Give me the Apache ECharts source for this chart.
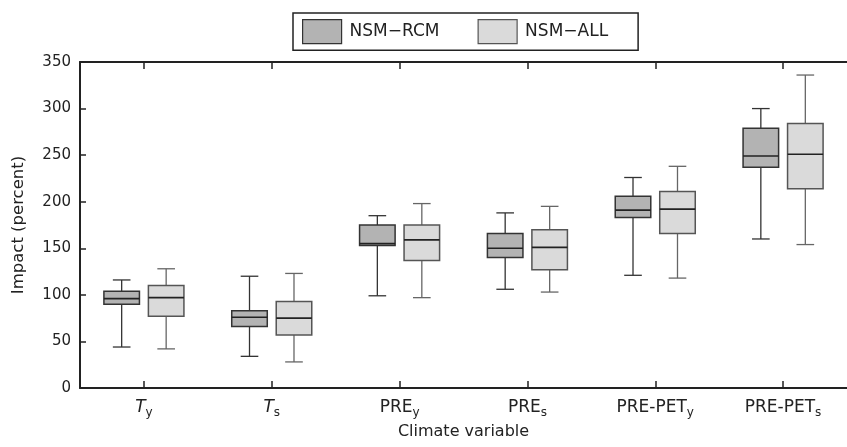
<!DOCTYPE html>
<html>
<head>
<meta charset="utf-8">
<script src="https://cdn.jsdelivr.net/npm/echarts@6/dist/echarts.min.js"></script>
<style>
  html, body { margin: 0; padding: 0; background: #fff; }
  #chart { width: 847px; height: 447px; }
</style>
</head>
<body>
<div id="chart"></div>
<script>
// climate variables (x categories), rich-text keys for subscripts
var categories = ['Ty', 'Ts', 'PREy', 'PREs', 'PETy', 'PETs'];
var catLabels = {
  Ty: '{it|T}{sub|y}',
  Ts: '{it|T}{sub|s}',
  PREy: 'PRE{sub|y}',
  PREs: 'PRE{sub|s}',
  PETy: 'PRE-PET{sub|y}',
  PETs: 'PRE-PET{sub|s}'
};
// [min, q1, median, q3, max] per category
var rcmBoxes = [
  [44, 90, 96, 104, 116],
  [34, 66, 76, 83, 120],
  [99, 153, 155, 175, 185],
  [106, 140, 150, 166, 188],
  [121, 183, 191, 206, 226],
  [160, 237, 249, 279, 300]
];
var allBoxes = [
  [42, 77, 97, 110, 128],
  [28, 57, 75, 93, 123],
  [97, 137, 159, 175, 198],
  [103, 127, 151, 170, 195],
  [118, 166, 192, 211, 238],
  [154, 214, 251, 284, 336]
];
var yTicks = [0, 50, 100, 150, 200, 250, 300, 350];

var font = 'DejaVu Sans';

function toData(boxes) {
  return boxes.map(function (b, i) { return [i].concat(b); });
}

function boxRenderer(fill, stroke, whisker, offsetFrac) {
  return function (params, api) {
    var cat = api.value(0);
    var band = api.size([1, 0])[0];
    var x = api.coord([cat, 0])[0] + band * offsetFrac;
    var yMin = api.coord([cat, api.value(1)])[1];
    var yQ1 = api.coord([cat, api.value(2)])[1];
    var yMed = api.coord([cat, api.value(3)])[1];
    var yQ3 = api.coord([cat, api.value(4)])[1];
    var yMax = api.coord([cat, api.value(5)])[1];
    var half = band * 0.139;
    var cap = band * 0.069;
    var wStyle = { stroke: whisker, lineWidth: 1.3 };
    return {
      type: 'group',
      children: [
        { type: 'line', shape: { x1: x, y1: yMax, x2: x, y2: yQ3 }, style: wStyle },
        { type: 'line', shape: { x1: x, y1: yQ1, x2: x, y2: yMin }, style: wStyle },
        { type: 'line', shape: { x1: x - cap, y1: yMax, x2: x + cap, y2: yMax }, style: wStyle },
        { type: 'line', shape: { x1: x - cap, y1: yMin, x2: x + cap, y2: yMin }, style: wStyle },
        { type: 'rect', shape: { x: x - half, y: yQ3, width: half * 2, height: yQ1 - yQ3 },
          style: { fill: fill, stroke: stroke, lineWidth: 1.5 } },
        { type: 'line', shape: { x1: x - half, y1: yMed, x2: x + half, y2: yMed },
          style: { stroke: '#222', lineWidth: 1.6 } }
      ]
    };
  };
}

var xTick = {
  show: true,
  inside: true,
  alignWithLabel: true,
  interval: 0,
  length: 7,
  lineStyle: { color: '#222', width: 1.5 }
};

var chart = echarts.init(document.getElementById('chart'));
chart.setOption({
  animation: false,
  textStyle: { fontFamily: font, color: '#222' },
  legend: {
    left: 293,
    top: 13,
    padding: [6, 30, 6, 9],
    itemWidth: 39,
    itemHeight: 24,
    itemGap: 38,
    borderColor: '#222',
    borderWidth: 1.5,
    textStyle: { fontFamily: font, fontSize: 17, color: '#222', padding: [0, 0, 0, 3] },
    data: [
      { name: 'NSM\u2212RCM', icon: 'rect', itemStyle: { color: '#b3b3b3', borderColor: '#333', borderWidth: 1.2 } },
      { name: 'NSM\u2212ALL', icon: 'rect', itemStyle: { color: '#dadada', borderColor: '#555', borderWidth: 1.2 } }
    ]
  },
  grid: { left: 80, top: 62, bottom: 59, width: 778 },
  xAxis: [
    {
      type: 'category',
      data: categories,
      name: 'Climate variable',
      nameLocation: 'middle',
      nameGap: 33,
      nameTextStyle: { fontFamily: font, fontSize: 16, color: '#222' },
      axisLine: { show: true, lineStyle: { color: '#222', width: 2 } },
      axisTick: xTick,
      axisLabel: {
        interval: 0,
        margin: 9,
        fontFamily: font,
        fontSize: 17,
        color: '#222',
        formatter: function (v) { return catLabels[v]; },
        rich: {
          it: { fontFamily: font, fontSize: 17, fontStyle: 'italic', color: '#222' },
          sub: { fontFamily: font, fontSize: 12, color: '#222', padding: [10, 0, 0, 0] }
        }
      },
      splitLine: { show: false }
    },
    {
      type: 'category',
      data: categories,
      position: 'top',
      axisLine: { show: true, lineStyle: { color: '#222', width: 2 } },
      axisTick: xTick,
      axisLabel: { show: false },
      splitLine: { show: false }
    }
  ],
  yAxis: {
    type: 'value',
    min: yTicks[0],
    max: yTicks[yTicks.length - 1],
    interval: 50,
    name: 'Impact (percent)',
    nameLocation: 'middle',
    nameGap: 53,
    nameTextStyle: { fontFamily: font, fontSize: 16.5, color: '#222' },
    axisLine: { show: true, lineStyle: { color: '#222', width: 2 } },
    axisTick: { show: true, inside: true, length: 6, lineStyle: { color: '#222', width: 1.5 } },
    axisLabel: { margin: 9, fontFamily: font, fontSize: 15, color: '#222' },
    splitLine: { show: false }
  },
  series: [
    {
      name: 'NSM\u2212RCM',
      type: 'custom',
      xAxisIndex: 0,
      itemStyle: { color: '#b3b3b3' },
      renderItem: boxRenderer('#b3b3b3', '#333', '#333', -0.174),
      encode: { x: 0, y: [1, 2, 3, 4, 5] },
      data: toData(rcmBoxes)
    },
    {
      name: 'NSM\u2212ALL',
      type: 'custom',
      xAxisIndex: 0,
      itemStyle: { color: '#dadada' },
      renderItem: boxRenderer('#dadada', '#555', '#666', 0.174),
      encode: { x: 0, y: [1, 2, 3, 4, 5] },
      data: toData(allBoxes)
    }
  ]
});
</script>
</body>
</html>
